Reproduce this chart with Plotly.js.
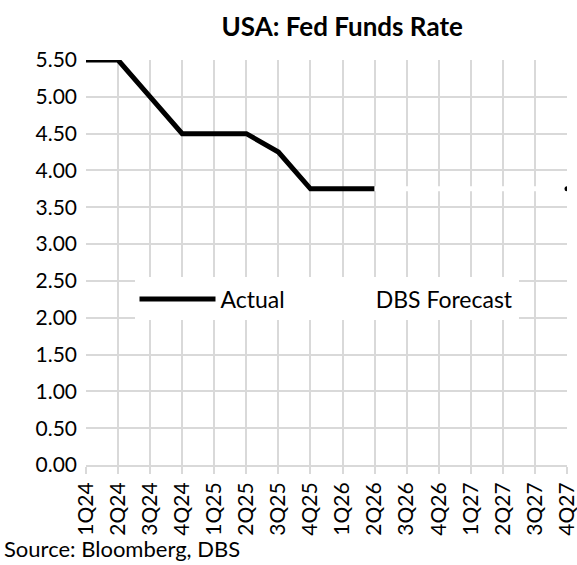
<!DOCTYPE html>
<html><head><meta charset="utf-8">
<script src="https://cdn.plot.ly/plotly-3.0.1.min.js"></script>
<style>body{margin:0;background:#fff}#c{width:577px;height:565px}</style>
</head><body><div id="c"></div>
<script>
const quarters = ["1Q24","2Q24","3Q24","4Q24","1Q25","2Q25","3Q25","4Q25","1Q26","2Q26","3Q26","4Q26","1Q27","2Q27","3Q27","4Q27"];
const actualX = ["1Q24","2Q24","3Q24","4Q24","1Q25","2Q25","3Q25","4Q25","1Q26","2Q26"];
const actual = [5.50,5.50,5.00,4.50,4.50,4.50,4.25,3.75,3.75,3.75];
const forecastX = ["2Q26","3Q26","4Q26","1Q27","2Q27","3Q27","4Q27"];
const forecast = [3.75,3.75,3.75,3.75,3.75,3.75,3.75];
const yTicks = [0,0.5,1,1.5,2,2.5,3,3.5,4,4.5,5,5.5];

const FONT = "Lato, 'Open Sans', sans-serif";
const traces = [
  {x: actualX, y: actual, name: "Actual", mode: "lines", type: "scatter",
   line: {color: "#000", width: 5}},
  {x: forecastX, y: forecast, name: "DBS Forecast", mode: "lines", type: "scatter",
   line: {color: "#fff", width: 5}},
  {x: [forecastX[forecastX.length-1]], y: [forecast[forecast.length-1]], mode: "markers", type: "scatter",
   marker: {color: "#000", size: 5}, showlegend: false, cliponaxis: true}
];
const layout = {
  width: 577, height: 565,
  margin: {l: 86, r: 10, t: 60, b: 100},
  paper_bgcolor: "#fff", plot_bgcolor: "#fff",
  font: {family: FONT, size: 21, color: "#000"},
  title: {text: "<b>USA: Fed Funds Rate</b>", x: 0.593, xanchor: "center", y: 0.953, yanchor: "middle",
          font: {family: FONT, size: 26, color: "#000"}},
  xaxis: {type: "category", categoryorder: "array", categoryarray: quarters,
          range: [0, quarters.length-1], tickangle: -90,
          showgrid: true, gridcolor: "#d9d9d9", gridwidth: 2,
          showline: true, linecolor: "#d9d9d9", linewidth: 2,
          ticks: "outside", ticklen: 7, tickcolor: "#d9d9d9", tickwidth: 2,
          tickfont: {family: FONT, size: 21}, zeroline: false, fixedrange: true},
  yaxis: {range: [0, 5.5], tickvals: yTicks, tickformat: ".2f",
          showgrid: true, gridcolor: "#d9d9d9", gridwidth: 2,
          showline: false, ticks: "", zeroline: false, ticklabelstandoff: 8,
          tickfont: {family: FONT, size: 21}, fixedrange: true},
  showlegend: true,
  legend: {orientation: "h", x: 0.5, xanchor: "center", y: 0.41, yanchor: "middle",
           bgcolor: "#fff", font: {family: FONT, size: 23}, itemwidth: 76, itemsizing: "constant"}
};
Plotly.newPlot("c", traces, layout, {displayModeBar: false, staticPlot: true});
const ann = {text: "Source: Bloomberg, DBS", xref: "paper", yref: "paper", x: -0.175, y: -0.205,
             xanchor: "left", yanchor: "middle", showarrow: false, font: {family: FONT, size: 22}};
Plotly.relayout("c", {annotations: [ann]});
</script></body></html>
